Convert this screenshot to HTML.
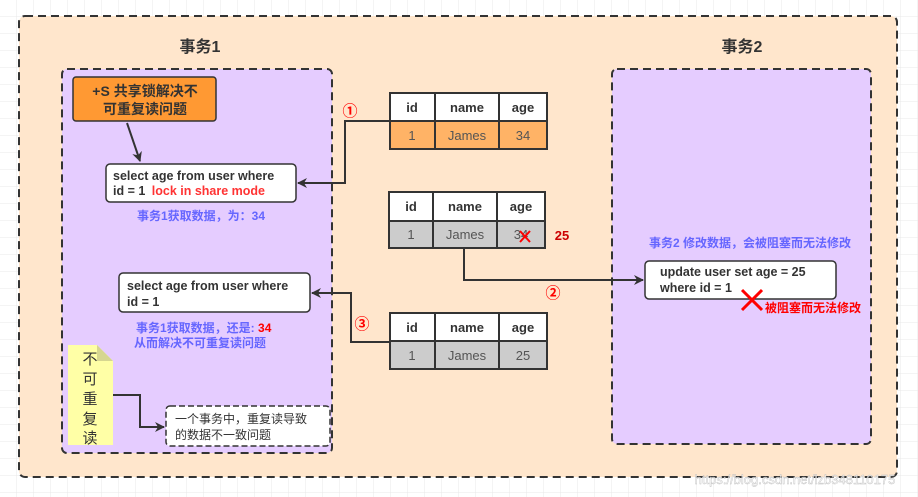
<!DOCTYPE html>
<html><head><meta charset="utf-8"><style>
html,body{margin:0;padding:0;width:918px;height:497px;overflow:hidden;background:#fff}
svg{display:block}
text{font-family:"Liberation Sans","Noto Sans CJK SC",sans-serif}
</style></head><body>
<svg width="918" height="497" viewBox="0 0 918 497" xmlns="http://www.w3.org/2000/svg">
<defs>
<pattern id="g" width="17" height="17" patternUnits="userSpaceOnUse"><path d="M17 0V17H0" fill="none" stroke="#e8e8e8" stroke-width="1"/></pattern>
<marker id="ar" markerWidth="10" markerHeight="10" refX="9" refY="5" orient="auto" markerUnits="userSpaceOnUse"><path d="M0,0 L10,5 L0,10 L3,5z" fill="#333"/></marker>
</defs>
<rect width="918" height="497" fill="url(#g)"/>
<rect x="19" y="16" width="878" height="461" rx="6" fill="#ffe6cc" stroke="#333" stroke-width="2" stroke-dasharray="8,5"/>
<text x="200" y="52" font-size="16" font-weight="bold" fill="#333" text-anchor="middle">事务1</text>
<text x="742" y="52" font-size="16" font-weight="bold" fill="#333" text-anchor="middle">事务2</text>
<rect x="62" y="69" width="270" height="384" rx="5" fill="#e5ccff" stroke="#333" stroke-width="2" stroke-dasharray="8,5"/>
<rect x="612" y="69" width="259" height="375" rx="5" fill="#e5ccff" stroke="#333" stroke-width="2" stroke-dasharray="8,5"/>
<rect x="73" y="77" width="143" height="44" rx="3" fill="#ff9933" stroke="#333" stroke-width="1.5"/>
<text x="145" y="96" font-size="14" font-weight="bold" fill="#333" text-anchor="middle">+S 共享锁解决不</text>
<text x="145" y="114" font-size="14" font-weight="bold" fill="#333" text-anchor="middle">可重复读问题</text>
<line x1="127" y1="123" x2="140" y2="161" stroke="#333" stroke-width="2" marker-end="url(#ar)"/>
<rect x="106" y="164" width="190" height="38" rx="4" fill="#fff" stroke="#333" stroke-width="1.5"/>
<text x="113" y="180" font-size="12.5" font-weight="bold" fill="#333">select age from user where</text>
<text x="113" y="195" font-size="12.5" font-weight="bold" fill="#333">id = 1 <tspan fill="#ff3333" dx="3">lock in share mode</tspan></text>
<text x="201" y="220" font-size="12" font-weight="bold" fill="#6666ff" text-anchor="middle">事务1获取数据，为：34</text>
<rect x="390" y="93" width="157" height="28" fill="#fff"/>
<rect x="390" y="121" width="157" height="28" fill="#ffb366"/>
<g stroke="#333" stroke-width="2" fill="none"><rect x="390" y="93" width="157" height="56"/><line x1="390" y1="121" x2="547" y2="121"/><line x1="435" y1="93" x2="435" y2="149"/><line x1="499" y1="93" x2="499" y2="149"/></g>
<g font-size="13" text-anchor="middle" fill="#333"><text x="412" y="112" font-weight="bold">id</text><text x="467" y="112" font-weight="bold">name</text><text x="523" y="112" font-weight="bold">age</text><text x="412" y="140" fill="#555">1</text><text x="467" y="140" fill="#555">James</text><text x="523" y="140" fill="#555">34</text></g>
<polyline points="390,121 345,121 345,183 298,183" fill="none" stroke="#333" stroke-width="2" marker-end="url(#ar)"/>
<text x="350" y="116" font-size="15" fill="#f00" font-weight="bold" text-anchor="middle">①</text>
<rect x="389" y="192" width="156" height="29" fill="#fff"/>
<rect x="389" y="221" width="156" height="27" fill="#ccc"/>
<g stroke="#333" stroke-width="2" fill="none"><rect x="389" y="192" width="156" height="56"/><line x1="389" y1="221" x2="545" y2="221"/><line x1="433" y1="192" x2="433" y2="248"/><line x1="497" y1="192" x2="497" y2="248"/></g>
<g font-size="13" text-anchor="middle" fill="#333"><text x="411" y="211" font-weight="bold">id</text><text x="465" y="211" font-weight="bold">name</text><text x="521" y="211" font-weight="bold">age</text><text x="411" y="239" fill="#555">1</text><text x="465" y="239" fill="#555">James</text><text x="521" y="239" fill="#555">34</text></g>
<g stroke="#f00" stroke-width="2"><line x1="520" y1="231" x2="530" y2="242"/><line x1="530" y1="231" x2="520" y2="242"/></g>
<text x="562" y="240" font-size="13" font-weight="bold" fill="#c00" text-anchor="middle">25</text>
<polyline points="464,248 464,280 643,280" fill="none" stroke="#333" stroke-width="2" marker-end="url(#ar)"/>
<text x="553" y="298" font-size="15" fill="#f00" font-weight="bold" text-anchor="middle">②</text>
<text x="750" y="247" font-size="12" font-weight="bold" fill="#6666ff" text-anchor="middle">事务2 修改数据，会被阻塞而无法修改</text>
<rect x="645" y="261" width="191" height="38" rx="4" fill="#fff" stroke="#333" stroke-width="1.5"/>
<text x="660" y="276" font-size="12.5" font-weight="bold" fill="#333">update user set age = 25</text>
<text x="660" y="292" font-size="12.5" font-weight="bold" fill="#333">where id = 1</text>
<g stroke="#f00" stroke-width="3"><line x1="742" y1="290" x2="762" y2="310"/><line x1="762" y1="290" x2="742" y2="310"/></g>
<text x="813" y="312" font-size="12" font-weight="bold" fill="#f00" text-anchor="middle">被阻塞而无法修改</text>
<rect x="390" y="313" width="157" height="28" fill="#fff"/>
<rect x="390" y="341" width="157" height="28" fill="#ccc"/>
<g stroke="#333" stroke-width="2" fill="none"><rect x="390" y="313" width="157" height="56"/><line x1="390" y1="341" x2="547" y2="341"/><line x1="435" y1="313" x2="435" y2="369"/><line x1="499" y1="313" x2="499" y2="369"/></g>
<g font-size="13" text-anchor="middle" fill="#333"><text x="412" y="332" font-weight="bold">id</text><text x="467" y="332" font-weight="bold">name</text><text x="523" y="332" font-weight="bold">age</text><text x="412" y="360" fill="#555">1</text><text x="467" y="360" fill="#555">James</text><text x="523" y="360" fill="#555">25</text></g>
<polyline points="390,342 351,342 351,293 312,293" fill="none" stroke="#333" stroke-width="2" marker-end="url(#ar)"/>
<text x="362" y="329" font-size="15" fill="#f00" font-weight="bold" text-anchor="middle">③</text>
<rect x="119" y="273" width="191" height="39" rx="4" fill="#fff" stroke="#333" stroke-width="1.5"/>
<text x="127" y="290" font-size="12.5" font-weight="bold" fill="#333">select age from user where</text>
<text x="127" y="306" font-size="12.5" font-weight="bold" fill="#333">id = 1</text>
<text x="136" y="332" font-size="12" font-weight="bold" fill="#6666ff">事务1获取数据，还是: <tspan fill="#f00">34</tspan></text>
<text x="134" y="347" font-size="12" font-weight="bold" fill="#6666ff">从而解决不可重复读问题</text>
<path d="M68,345 H97 L113,361 V445 H68 Z" fill="#ffffa6"/>
<path d="M97,345 V361 H113 Z" fill="#d6d690"/>
<g font-size="15" fill="#333" text-anchor="middle"><text x="90" y="364">不</text><text x="90" y="384">可</text><text x="90" y="404">重</text><text x="90" y="424">复</text><text x="90" y="443">读</text></g>
<polyline points="113,395 140,395 140,427 164,427" fill="none" stroke="#333" stroke-width="2" marker-end="url(#ar)"/>
<rect x="166" y="406" width="164" height="40" rx="4" fill="#fff" stroke="#333" stroke-width="1.5" stroke-dasharray="6,3"/>
<text x="175" y="423" font-size="12" fill="#333">一个事务中，重复读导致</text>
<text x="175" y="439" font-size="12" fill="#333">的数据不一致问题</text>
<text x="795" y="484" font-size="13" fill="#fff" fill-opacity="0.7" text-anchor="middle" stroke="#bbb" stroke-width="0.4">https://blog.csdn.net/lzb348110175</text>
</svg>
</body></html>
